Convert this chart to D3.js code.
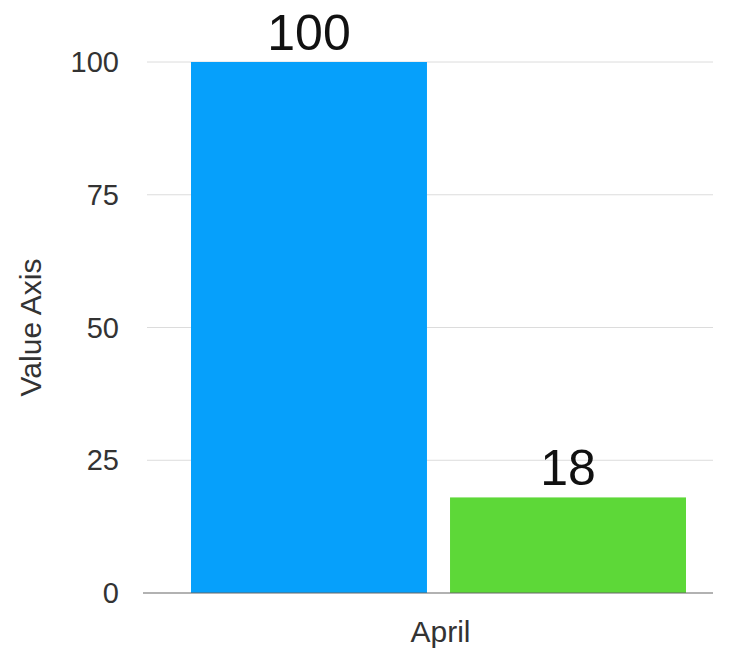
<!DOCTYPE html>
<html>
<head>
<meta charset="utf-8">
<script src="https://cdn.jsdelivr.net/npm/d3@7"></script>
<style>
  body { margin: 0; background: #fff; }
  text { font-family: "Liberation Sans", Arial, sans-serif; }
</style>
</head>
<body>
<svg id="chart"></svg>
<script>
const width = 731;
const height = 648;

// data
const categories = ["April"];
const seriesNames = ["Series 1", "Series 2"];
const seriesValues = [[100], [18]];
const seriesColors = ["#06a0fb", "#5dd838"];
const yTicks = [0, 25, 50, 75, 100];

const plot = { left: 147, right: 713, top: 62, bottom: 593 };

const svg = d3.select("#chart")
  .attr("width", width)
  .attr("height", height);

const y = d3.scaleLinear()
  .domain([0, 100])
  .range([plot.bottom, plot.top]);

const x0 = d3.scaleBand()
  .domain(categories)
  .range([191, 686]);

const x1 = d3.scaleBand()
  .domain(seriesNames)
  .range([0, x0.bandwidth()])
  .paddingInner(0.089);

// gridlines
svg.append("g")
  .selectAll("line")
  .data(yTicks.filter(t => t > 0))
  .enter()
  .append("line")
  .attr("x1", plot.left)
  .attr("x2", plot.right)
  .attr("y1", d => y(d))
  .attr("y2", d => y(d))
  .attr("stroke", "#dcdcdc")
  .attr("stroke-width", 1);

// y tick labels
svg.append("g")
  .selectAll("text")
  .data(yTicks)
  .enter()
  .append("text")
  .attr("x", 119)
  .attr("y", d => y(d))
  .attr("dy", "0.35em")
  .attr("text-anchor", "end")
  .attr("font-size", 29)
  .attr("fill", "#333")
  .text(d => d);

// axis title
svg.append("text")
  .attr("transform", `translate(41,${(plot.top + plot.bottom) / 2}) rotate(-90)`)
  .attr("text-anchor", "middle")
  .attr("font-size", 30)
  .attr("fill", "#333")
  .text("Value Axis");

// bars
const rows = [];
categories.forEach((c, i) => {
  seriesNames.forEach((s, j) => {
    rows.push({ cat: c, series: s, value: seriesValues[j][i], color: seriesColors[j] });
  });
});

svg.append("g")
  .selectAll("rect")
  .data(rows)
  .enter()
  .append("rect")
  .attr("x", d => x0(d.cat) + x1(d.series))
  .attr("width", x1.bandwidth())
  .attr("y", d => y(d.value))
  .attr("height", d => y(0) - y(d.value))
  .attr("fill", d => d.color);

// value labels
svg.append("g")
  .selectAll("text")
  .data(rows)
  .enter()
  .append("text")
  .attr("x", d => x0(d.cat) + x1(d.series) + x1.bandwidth() / 2)
  .attr("y", d => y(d.value) - 12)
  .attr("text-anchor", "middle")
  .attr("font-size", 50)
  .attr("fill", "#111")
  .text(d => d.value);

// x axis line
svg.append("line")
  .attr("x1", 143)
  .attr("x2", plot.right)
  .attr("y1", y(0))
  .attr("y2", y(0))
  .attr("stroke", "#666")
  .attr("stroke-width", 1.2);

// category labels
svg.append("g")
  .selectAll("text")
  .data(categories)
  .enter()
  .append("text")
  .attr("x", d => x0(d) + x0.bandwidth() / 2 + 2)
  .attr("y", 642)
  .attr("text-anchor", "middle")
  .attr("font-size", 30)
  .attr("fill", "#333")
  .text(d => d);
</script>
</body>
</html>
